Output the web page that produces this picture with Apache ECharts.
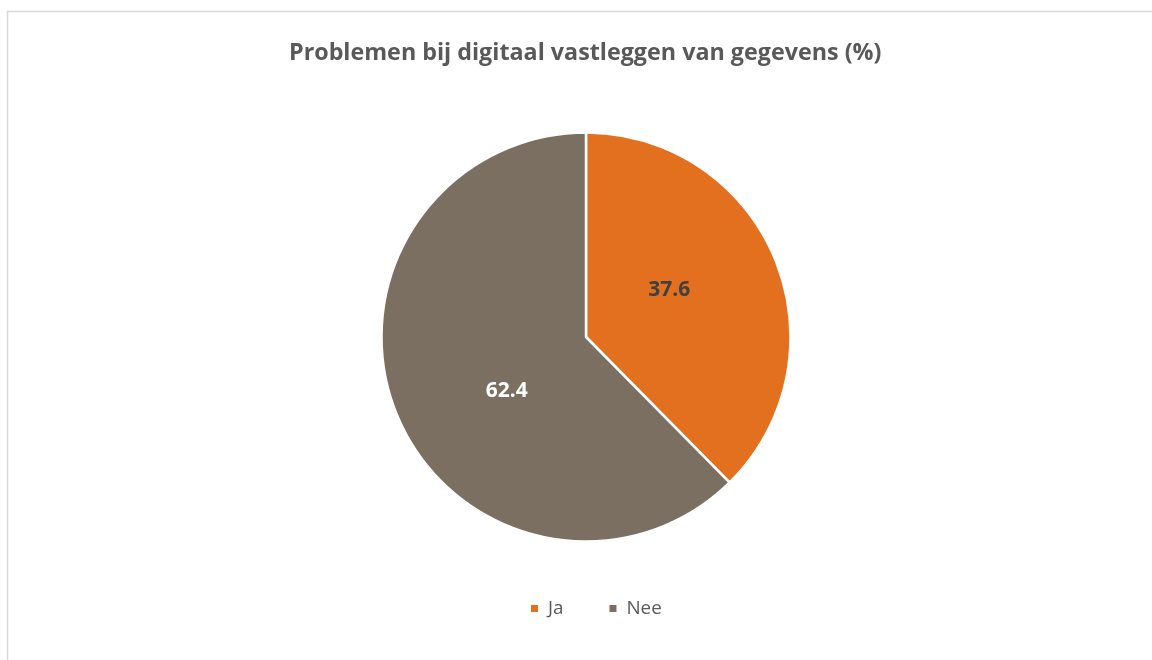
<!DOCTYPE html>
<html>
<head>
<meta charset="utf-8">
<script src="https://cdn.jsdelivr.net/npm/echarts@6/dist/echarts.min.js"></script>
<style>html,body{margin:0;padding:0;background:#fff}#c{width:1152px;height:660px}</style>
</head>
<body>
<div id="c"></div>
<script>
const titleText = 'Problemen bij digitaal vastleggen van gegevens (%)';
const categories = ['Ja', 'Nee'];
const values = [37.6, 62.4];
const colors = ['#E2701F', '#7B6F62'];
const labelColors = ['#404040', '#ffffff'];
const labelOffsets = [[-14, -7], [18, 14]];

const chart = echarts.init(document.getElementById('c'));
chart.setOption({
  animation: false,
  backgroundColor: '#fff',
  graphic: [{
    type: 'rect',
    shape: { x: 7.5, y: 11.5, width: 1200, height: 700 },
    style: { fill: 'none', stroke: '#d9d9d9', lineWidth: 1.5 },
    silent: true
  }],
  title: {
    text: titleText,
    left: 284,
    top: 37,
    textStyle: { fontFamily: 'Open Sans', fontWeight: 'bold', fontSize: 23.3, color: '#595959' }
  },
  legend: {
    data: categories,
    bottom: 37,
    left: 524,
    itemWidth: 9,
    itemHeight: 9,
    itemGap: 44,
    icon: 'rect',
    textStyle: { fontFamily: 'Open Sans', fontSize: 18.8, color: '#595959', padding: [0, 0, 0, 4] }
  },
  series: [{
    type: 'pie',
    center: [586, 337],
    radius: [0, 204.5],
    startAngle: 90,
    clockwise: true,
    itemStyle: { borderColor: '#fff', borderWidth: 2.5 },
    label: {
      show: true,
      position: 'inside',
      fontFamily: 'Open Sans',
      fontWeight: 'bold',
      fontSize: 21,
      formatter: p => p.value.toFixed(1)
    },
    labelLine: { show: false },
    emphasis: { disabled: true },
    data: categories.map((c, i) => ({
      name: c,
      value: values[i],
      itemStyle: { color: colors[i] },
      label: { color: labelColors[i], offset: labelOffsets[i] }
    }))
  }]
});
</script>
</body>
</html>
